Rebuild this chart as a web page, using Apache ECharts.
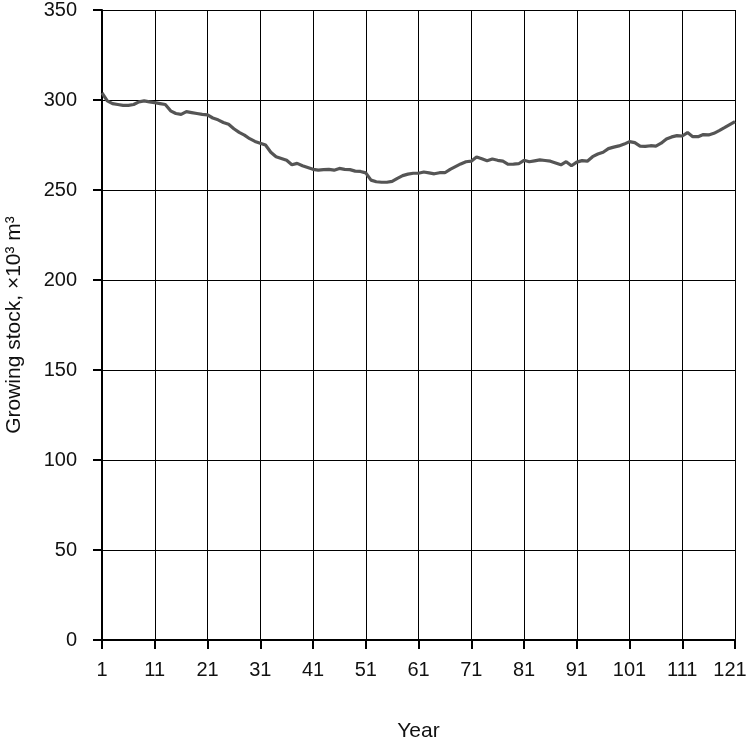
<!DOCTYPE html>
<html>
<head>
<meta charset="utf-8">
<script src="https://cdn.jsdelivr.net/npm/echarts@6/dist/echarts.min.js"></script>
<style>
html,body{margin:0;padding:0;background:#fff;}
#chart{width:746px;height:743px;}
</style>
</head>
<body>
<div id="chart"></div>
<script>
var years = [];
for (var y = 1; y <= 121; y++) years.push(String(y));

var growingStock = [
  304, 299.5, 298, 297.5, 297, 297, 297.5, 299, 299.5, 299,
  298.5, 298, 297.5, 294, 292.5, 292, 293.5, 293, 292.5, 292,
  291.7, 290, 289, 287.5, 286.5, 284, 282, 280.5, 278.5, 277,
  276, 275, 271, 268.5, 267.5, 266.5, 264, 264.8, 263.5, 262.5,
  261.5, 261, 261.3, 261.5, 261, 262, 261.5, 261.3, 260.5, 260.3,
  259.5, 255.5, 254.6, 254.3, 254.3, 254.8, 256.5, 258, 258.8, 259.3,
  259.3, 260, 259.5, 259, 259.6, 259.6, 261.5, 263, 264.5, 265.7,
  266, 268.3, 267.3, 266.2, 267.2, 266.5, 266, 264.3, 264.4, 264.6,
  266.5, 265.7, 266.2, 266.7, 266.4, 266, 265, 264, 265.7, 263.5,
  265.5, 266.3, 266, 268.5, 270, 271, 273, 273.8, 274.5, 275.5,
  276.9, 276.3, 274.4, 274.2, 274.6, 274.4, 276, 278.3, 279.5, 280.2,
  280, 281.9, 279.6, 279.6, 280.8, 280.6, 281.5, 283, 284.6, 286.3,
  288
];

var xName = 'Year';
var yName = 'Growing stock, \u00d710\u00b3 m\u00b3';

var chart = echarts.init(document.getElementById('chart'), null, {renderer: 'canvas'});
var font = '"Liberation Sans Narrow", "Arial Narrow", "Liberation Sans", Arial, sans-serif';
var lastYear = years[years.length - 1];
chart.setOption({
  animation: false,
  backgroundColor: '#ffffff',
  grid: {left: 102, right: 11, top: 10, bottom: 103, containLabel: false, outerBoundsMode: 'none'},
  xAxis: {
    type: 'category',
    data: years,
    boundaryGap: false,
    name: xName,
    nameLocation: 'middle',
    nameGap: 81,
    nameTextStyle: {fontFamily: font, fontSize: 21, color: '#111'},
    axisLine: {show: true, lineStyle: {color: '#000', width: 2}},
    axisTick: {show: true, interval: 9, length: 9, lineStyle: {color: '#000', width: 2}},
    axisLabel: {
      interval: 9, margin: 20, fontFamily: font, fontSize: 20, color: '#111',
      formatter: function (v) { return v === lastYear ? '{last|' + v + '}' : v; },
      rich: {last: {fontFamily: font, fontSize: 20, color: '#111', padding: [0, 10, 0, 0]}}
    },
    splitLine: {show: true, interval: 9, lineStyle: {color: '#000', width: 1}}
  },
  yAxis: {
    type: 'value',
    min: 0,
    max: 350,
    interval: 50,
    name: yName,
    nameLocation: 'middle',
    nameGap: 77,
    nameRotate: 90,
    nameTextStyle: {fontFamily: font, fontSize: 21, color: '#111'},
    axisLine: {show: true, lineStyle: {color: '#000', width: 2}},
    axisTick: {show: true, length: 9, lineStyle: {color: '#000', width: 2}},
    axisLabel: {margin: 25, fontFamily: font, fontSize: 20, color: '#111'},
    splitLine: {show: true, lineStyle: {color: '#000', width: 1}}
  },
  series: [{
    type: 'line',
    data: growingStock,
    showSymbol: false,
    symbol: 'none',
    smooth: false,
    lineStyle: {color: '#555555', width: 3.2}
  }]
});
</script>
</body>
</html>
